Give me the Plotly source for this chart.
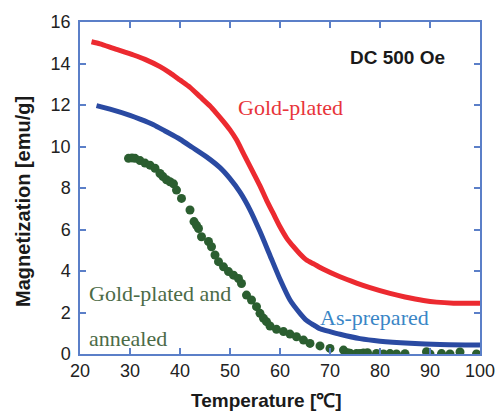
import plotly.graph_objects as go

# Gold-plated (red)
red_T = [22.3, 24.0, 26.7, 30.7, 33.0, 36.0, 38.0, 40.0, 42.0, 44.0, 46.0, 47.3, 48.7, 50.0, 51.3, 52.7, 54.7, 56.0, 57.3, 58.7, 60.0, 61.3, 62.7, 64.0, 65.3, 66.7, 68.7, 72.0, 75.3, 78.0, 82.0, 85.0, 88.7, 91.3, 94.7, 100.0]
red_M = [15.05, 14.95, 14.73, 14.41, 14.2, 13.85, 13.55, 13.2, 12.85, 12.4, 11.95, 11.6, 11.2, 10.8, 10.32, 9.66, 8.72, 8.1, 7.42, 6.75, 6.13, 5.6, 5.17, 4.82, 4.53, 4.35, 4.08, 3.72, 3.42, 3.2, 2.92, 2.75, 2.58, 2.5, 2.45, 2.44]

# As-prepared (blue)
blue_T = [23.3, 26.0, 30.0, 32.0, 34.7, 37.0, 40.0, 42.5, 45.3, 48.0, 50.0, 52.0, 54.0, 56.0, 58.0, 60.0, 62.0, 64.0, 65.3, 66.7, 68.0, 70.0, 72.0, 76.0, 80.0, 86.0, 92.0, 100.0]
blue_M = [11.97, 11.8, 11.5, 11.32, 11.05, 10.75, 10.35, 9.95, 9.5, 8.98, 8.45, 7.8, 6.95, 5.9, 4.75, 3.6, 2.6, 1.96, 1.62, 1.4, 1.22, 1.08, 0.95, 0.74, 0.62, 0.52, 0.46, 0.43]

# Gold-plated and annealed (green dots)
green_T = [29.7, 30.4, 31.0, 32.0, 33.0, 34.0, 35.0, 36.0, 36.6, 37.3, 38.0, 38.7, 39.3, 40.3, 42.0, 42.8, 43.3, 43.7, 44.3, 45.7, 46.3, 47.0, 47.7, 48.7, 49.7, 50.7, 51.7, 52.3, 53.3, 54.3, 55.3, 56.0, 56.7, 57.3, 58.0, 59.3, 60.7, 62.0, 63.3, 64.7, 66.0, 68.0, 70.0, 72.7, 73.5, 74.0, 75.3, 76.0, 76.7, 77.5, 79.3, 80.7, 82.0, 83.3, 85.0, 89.3, 90.0, 92.3, 94.0, 96.0, 99.3]
green_M = [9.43, 9.45, 9.43, 9.32, 9.2, 9.1, 8.95, 8.7, 8.55, 8.4, 8.3, 8.2, 7.9, 7.5, 6.94, 6.38, 6.2, 6.05, 5.65, 5.42, 5.17, 4.77, 4.45, 4.2, 3.97, 3.8, 3.64, 3.4, 2.84, 2.6, 2.28, 1.96, 1.72, 1.56, 1.35, 1.19, 1.08, 0.96, 0.83, 0.67, 0.51, 0.39, 0.27, 0.19, 0.06, 0.04, 0.03, 0.03, 0.05, 0.06, 0.03, 0.0, 0.02, 0.0, 0.01, 0.11, 0.0, 0.02, 0.0, 0.1, 0.0]

x_ticks = [20, 30, 40, 50, 60, 70, 80, 90, 100]
y_ticks = [0, 2, 4, 6, 8, 10, 12, 14, 16]

n = min(len(green_T), len(green_M))
green_T = green_T[:n]
green_M = green_M[:n]

axis_col = "#5b7fc8"

fig = go.Figure()
fig.add_trace(go.Scatter(x=red_T, y=red_M, mode="lines",
                         line=dict(color="#ec2a30", width=5, shape="spline", smoothing=0.6), hoverinfo="skip"))
fig.add_trace(go.Scatter(x=blue_T, y=blue_M, mode="lines",
                         line=dict(color="#2a4aa2", width=5, shape="spline", smoothing=0.6), hoverinfo="skip"))
fig.add_trace(go.Scatter(x=green_T, y=green_M, mode="markers",
                         marker=dict(color="#2b5e30", size=9, line=dict(width=0)), hoverinfo="skip"))

serif = "Liberation Serif"
title_font = "Liberation Sans"
annotations = [
    dict(x=83.4, y=14.31, text="<b>DC 500 Oe</b>", showarrow=False, xanchor="center", yanchor="middle",
         font=dict(family="Liberation Sans", size=19, color="#1a1a1a")),
    dict(x=51.2, y=11.86, text="Gold-plated", showarrow=False, xanchor="left", yanchor="middle",
         font=dict(family=serif, size=22, color="#e8343a")),
    dict(x=67.6, y=1.78, text="As-prepared", showarrow=False, xanchor="left", yanchor="middle",
         font=dict(family=serif, size=22, color="#3a86c6")),
    dict(x=21.4, y=2.94, text="Gold-plated and", showarrow=False, xanchor="left", yanchor="middle",
         font=dict(family=serif, size=22, color="#4c6b47")),
    dict(x=21.4, y=0.77, text="annealed", showarrow=False, xanchor="left", yanchor="middle",
         font=dict(family=serif, size=22, color="#4c6b47")),
    # axis titles
    dict(xref="paper", yref="paper", x=0.465, y=-0.139, text="<b>Temperature [℃]</b>",
         showarrow=False, xanchor="center", yanchor="middle",
         font=dict(family=title_font, size=19, color="#1a1a1a")),
    dict(xref="paper", yref="paper", x=-0.1425, y=0.458, text="<b>Magnetization [emu/g]</b>",
         showarrow=False, xanchor="center", yanchor="middle", textangle=-90,
         font=dict(family=title_font, size=20, color="#1a1a1a")),
]

fig.update_layout(
    width=497, height=412,
    margin=dict(l=80, r=17, t=22, b=58, autoexpand=False),
    paper_bgcolor="white", plot_bgcolor="white",
    showlegend=False,
    annotations=annotations,
    xaxis=dict(range=[20, 100], tickvals=x_ticks, ticktext=[str(v) for v in x_ticks],
               automargin=False,
               showgrid=False, zeroline=False, showline=True, linecolor=axis_col, linewidth=1.5,
               mirror="ticks", ticks="inside", ticklen=6, tickcolor=axis_col, tickwidth=1.5,
               tickfont=dict(family="Liberation Sans", size=18, color="#222")),
    yaxis=dict(range=[0, 16], tickvals=y_ticks, ticktext=[str(v) for v in y_ticks],
               automargin=False,
               showgrid=False, zeroline=False, showline=True, linecolor=axis_col, linewidth=1.5,
               mirror="ticks", ticks="inside", ticklen=6, tickcolor=axis_col, tickwidth=1.5,
               ticklabelstandoff=4,
               tickfont=dict(family="Liberation Sans", size=18, color="#222")),
)

fig.write_html("out.html")
